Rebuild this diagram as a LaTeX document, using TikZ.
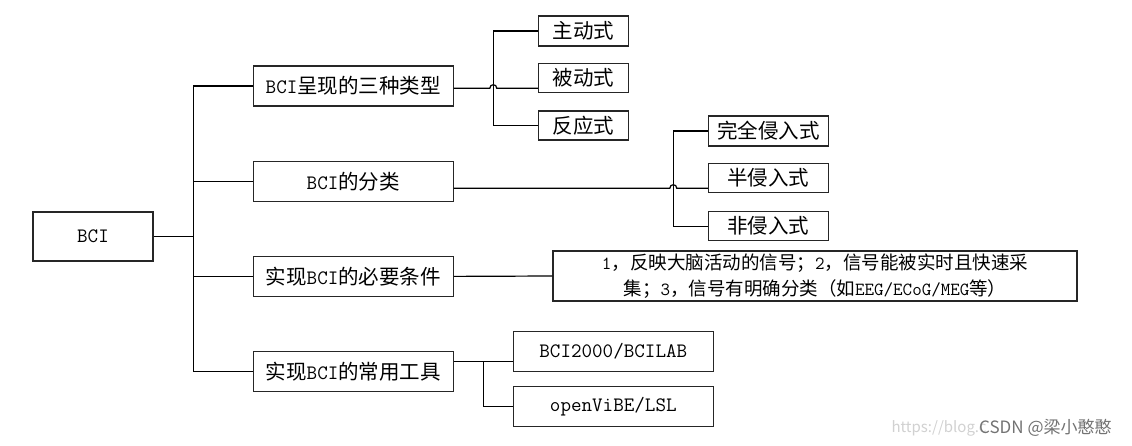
\documentclass[tikz,border=0pt]{standalone}
\usepackage{fontspec}
\setmainfont{Noto Sans CJK SC}
\usetikzlibrary{calc}
\newcommand{\lt}[1]{\texttt{#1}}
\begin{document}
\begin{tikzpicture}[x=1pt,y=-1pt,
  box/.style={draw=black!85,line width=1.1pt,inner sep=0pt,font=\fontsize{20.5}{24}\selectfont},
  conn/.style={draw=black,line width=1.2pt}]
\useasboundingbox[fill=white] (0,0) rectangle (1132,446);
% root
\node[box,minimum width=120,minimum height=49] (bci) at (93,236.5) {\lt{BCI}};
% level 1
\node[box,minimum width=200,minimum height=40] (t1) at (353.3,86) {\lt{BCI}呈现的三种类型};
\node[box,minimum width=200,minimum height=39.5] (t2) at (353.3,181.4) {\lt{BCI}的分类};
\node[box,minimum width=200,minimum height=39.5] (t3) at (353.3,276.4) {实现\lt{BCI}的必要条件};
\node[box,minimum width=200,minimum height=39.5] (t4) at (353.3,371.4) {实现\lt{BCI}的常用工具};
% level 2 (types)
\node[box,minimum width=90,minimum height=30] (a1) at (583.3,31) {主动式};
\node[box,minimum width=90,minimum height=29.5] (a2) at (583.3,78) {被动式};
\node[box,minimum width=90,minimum height=29] (a3) at (583.3,125.5) {反应式};
% level 2 (classes)
\node[box,minimum width=120,minimum height=30] (b1) at (768.3,131) {完全侵入式};
\node[box,minimum width=120,minimum height=29.5] (b2) at (768.3,178) {半侵入式};
\node[box,minimum width=120,minimum height=29] (b3) at (768.3,226.2) {非侵入式};
% level 2 (conditions)
\node[box,minimum width=524,minimum height=50,align=center,font=\fontsize{18.5}{26}\selectfont] (c) at (815,276)
  {\lt{1}，反映大脑活动的信号；\lt{2}，信号能被实时且快速采\\集；\lt{3}，信号有明确分类（如\lt{EEG/ECoG/MEG}等）};
% level 2 (tools)
\node[box,minimum width=200,minimum height=39.5] (d1) at (613.3,351.3) {\lt{BCI2000/BCILAB}};
\node[box,minimum width=200,minimum height=39.5] (d2) at (613.3,406.3) {\lt{openViBE/LSL}};
% trunk
\coordinate (tr) at (193.3,236.5);
\draw[conn] (bci.east) -- (tr);
\draw[conn] (t1.west) -| (tr) |- (t4.west);
\draw[conn] (tr) |- (t2.west);
\draw[conn] (tr) |- (t3.west);
% branch 1
\coordinate (p1) at ($(t1.east)+(0,2.3)$);
\coordinate (v1) at (493.3,0);
\draw[conn] (a1.west) -- (a1.west -| v1) -- (a3.west -| v1) -- (a3.west);
\draw[conn] (p1) -- ($(p1 -| v1)+(-3.5,0)$) .. controls +(0,-4.8) and +(0,-4.8) .. ($(p1 -| v1)+(3.5,0)$) -- (p1 -| a2.west);
% branch 2
\coordinate (p2) at ($(t2.east)+(0,6.9)$);
\coordinate (v2) at (673.3,0);
\draw[conn] (b1.west) -- (b1.west -| v2) -- (b3.west -| v2) -- (b3.west);
\draw[conn] (p2) -- ($(p2 -| v2)+(-3.5,0)$) .. controls +(0,-4.8) and +(0,-4.8) .. ($(p2 -| v2)+(3.5,0)$) -- (p2 -| b2.west);
% branch 3
\draw[conn] (t3.east) -- (c.west);
% branch 4
\coordinate (p4) at ($(t4.east)+(0,-9.7)$);
\coordinate (v4) at (483.3,0);
\draw[conn] (p4) -- (p4 -| d1.west);
\draw[conn] (p4 -| v4) -- (v4 |- d2.west) -- (d2.west);
% watermark
\node[text=black!18,font=\fontsize{15}{18}\selectfont,anchor=west] (wm1) at (888,428) {https://blog.c};
\node[text=black!55,font=\fontsize{17}{18}\selectfont,anchor=west,inner sep=0pt] (wm2) at (979,428) {CSDN @梁小憨憨};
\end{tikzpicture}
\end{document}
